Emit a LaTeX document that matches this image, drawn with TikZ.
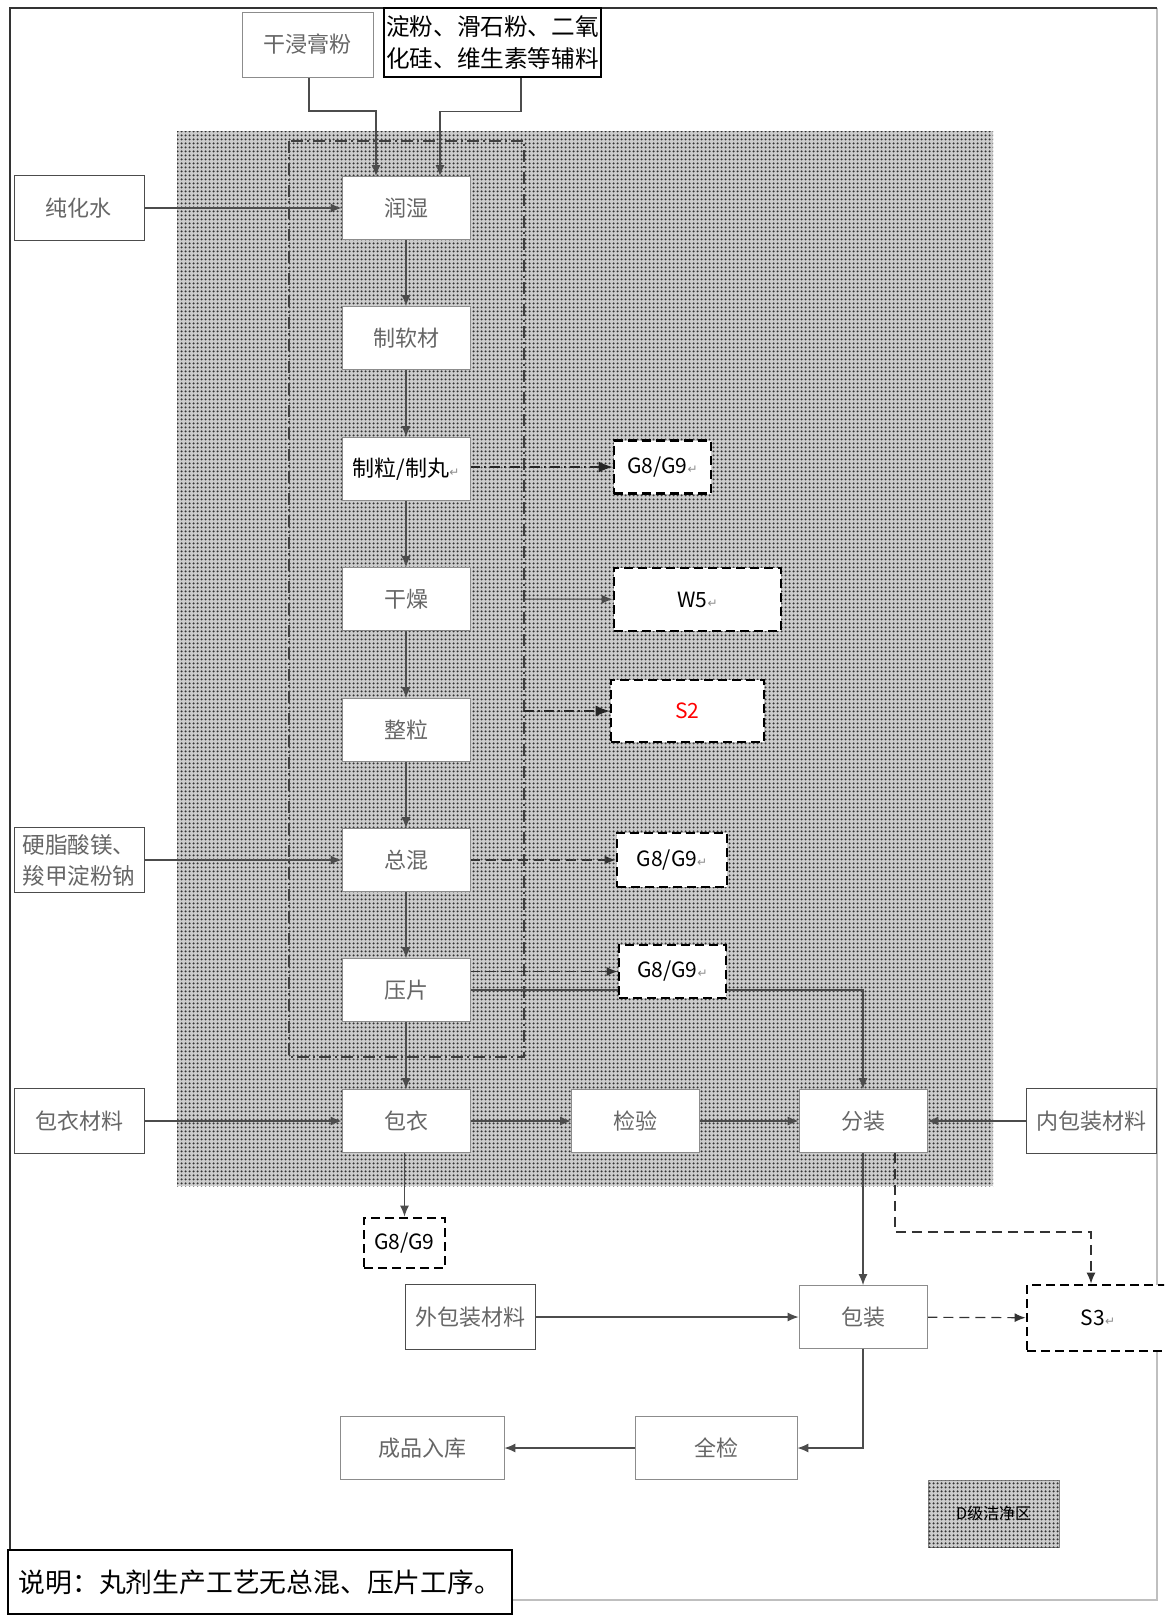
\documentclass[tikz,border=0pt]{standalone}
\usepackage{fontspec}
\setmainfont{Noto Sans CJK SC}
\newfontfamily\markfont{DejaVu Sans}
\usetikzlibrary{arrows.meta,patterns,backgrounds}

\newcommand{\retmark}{{\markfont\fontsize{6}{6}\selectfont\color{black!45}↵}}

% fine dot screen of the clean zone
\pgfdeclarepatternformonly{finedots}{\pgfpointorigin}{\pgfpoint{2pt}{2pt}}{\pgfpoint{2pt}{2pt}}
  {\pgfpathcircle{\pgfpoint{1pt}{1pt}}{0.7pt}\pgfusepath{fill}}

\tikzset{
  proc/.style={draw=black!45, fill=white, minimum width=64pt, minimum height=31.5pt,
    text=black!60, font=\fontsize{11}{13}\selectfont, inner sep=1pt},
  matbox/.style={proc, draw=black!70, minimum width=65pt, minimum height=32.5pt},
  emit/.style={draw=black, line width=1.4pt, dash pattern=on 4.5pt off 2.5pt, fill=white,
    font=\fontsize{10.5}{12}\selectfont, inner sep=1pt},
  flow/.style={draw=black!70, line width=0.6pt, -{Latex[length=5.5pt,width=4.5pt]}},
  dflow/.style={flow, draw=black!80, dash pattern=on 5pt off 3pt},
  ddflow/.style={flow, draw=black!85, dash pattern=on 5pt off 2pt on 1pt off 2pt,
    -{Latex[length=7pt,width=5.5pt]}},
  cleanzone/.style={fill=gray!40, postaction={pattern=finedots, pattern color=black!80}},
}

\begin{document}
\begin{tikzpicture}[x=0.5pt, y=-0.5pt]
    \useasboundingbox (0,0) rectangle (1164,1617);
    \clip (0,0) rectangle (1164,1617);
    \def\colx{406}

    % frame, clean zone and the dash-dot group
    \begin{scope}[on background layer]
      \fill[white] (0,0) rectangle (1164,1617);
      \draw[black!25, line width=0.8pt] (1157,8) -- (1157,1600) -- (10,1600);
      \draw[black!80, line width=1pt] (10,1600) -- (10,8) -- (1157,8);
      \path[cleanzone] (177,131) rectangle (993,1186);
      \draw[black!75, line width=0.6pt, dash pattern=on 6pt off 2pt on 1pt off 2pt] (289,141) rectangle (524,1057);
    \end{scope}

    % raw materials
    \node[proc, minimum width=65.5pt, minimum height=32.5pt] (gan) at (307.5,44.5) {干浸膏粉};
    \node[draw=black, line width=1pt, fill=white, minimum width=108.5pt, minimum height=34.5pt,
      align=left, font=\fontsize{11.8}{16}\selectfont, inner sep=1pt] (fuliao) at (492.5,42.5)
      {淀粉、滑石粉、二氧\\化硅、维生素等辅料};
    \node[matbox] (water) at (79,208) {纯化水};
    \node[matbox, align=left, font=\fontsize{11.3}{15.5}\selectfont] (yingzhi) at (79,860) {硬脂酸镁、\\羧甲淀粉钠};
    \node[matbox] (yibaocai) at (79,1121) {包衣材料};
    \node[matbox] (neibao) at (1091.5,1121) {内包装材料};
    \node[matbox] (waibao) at (470.5,1317) {外包装材料};

    % main column
    \node[proc] (runshi) at (\colx,208) {润湿};
    \node[proc] (ruancai) at (\colx,338) {制软材};
    \node[proc, text=black] (zhili) at (\colx,469) {制粒/制丸\retmark};
    \node[proc] (ganzao) at (\colx,599) {干燥};
    \node[proc] (zhengli) at (\colx,730) {整粒};
    \node[proc] (zonghun) at (\colx,860) {总混};
    \node[proc] (yapian) at (\colx,990) {压片};
    \node[proc] (baoyi) at (\colx,1121) {包衣};
    \node[proc] (jianyan) at (635.5,1121) {检验};
    \node[proc] (fenzhuang) at (863,1121) {分装};
    \node[proc] (baozhuang) at (863,1317) {包装};
    \node[proc, minimum width=81pt] (quanjian) at (716,1448) {全检};
    \node[proc, minimum width=82pt] (chengpin) at (422,1448) {成品入库};

    % emissions
    \node[emit, minimum width=48.5pt, minimum height=26.5pt] (g1) at (662.5,467) {G8/G9\retmark};
    \node[emit, minimum width=83.5pt, minimum height=31.5pt] (w5) at (697.5,599.5) {W5\retmark};
    \node[emit, minimum width=76.5pt, minimum height=31pt, text=red] (s2) at (687.5,711) {S2};
    \node[emit, minimum width=55pt, minimum height=27pt] (g2) at (672,860) {G8/G9\retmark};
    \node[emit, minimum width=53.5pt, minimum height=26.5pt] (g3) at (672.5,971.5) {G8/G9\retmark};
    \node[emit, minimum width=40.5pt, minimum height=25pt] (g4) at (404.5,1243) {G8/G9};
    \node[emit, minimum width=71pt, minimum height=33pt] (s3) at (1098,1318) {S3\retmark};

    % legend and note
    \node[draw=black!50, cleanzone, minimum width=65.5pt, minimum height=33.5pt,
      font=\fontsize{8}{9}\selectfont] (legend) at (993.5,1513.5) {D级洁净区};
    \node[draw=black, line width=0.8pt, fill=white, minimum width=252pt, minimum height=32pt,
      font=\fontsize{13.4}{15}\selectfont] (note) at (260,1582) {说明：丸剂生产工艺无总混、压片工序。};

    % connectors
    \begin{scope}[on background layer]
      \draw[flow] ([xshift=0.75pt]gan.south) -- ++(0,33.5) -| ([xshift=-15pt]runshi.north);
      \draw[flow] ([xshift=14.25pt]fuliao.south) -- ++(0,33.5) -| ([xshift=17pt]runshi.north);
      \draw[flow] (water) -- (runshi);
      \foreach \a/\b in {runshi/ruancai, ruancai/zhili, zhili/ganzao, ganzao/zhengli,
                         zhengli/zonghun, zonghun/yapian, yapian/baoyi}
        \draw[flow] (\a) -- (\b);
      \draw[ddflow] (zhili.east |- g1) -- (g1);
      \coordinate (wsrc) at (524,599);
      \draw[flow, line width=0.5pt] (wsrc) -- (w5);
      \coordinate (ssrc) at (524,711);
      \draw[ddflow] (ssrc) -- (s2);
      \draw[dflow] (zonghun) -- (g2);
      \draw[dflow] (yapian.east |- g3) -- (g3);
      \draw[flow] (yapian) -| (fenzhuang);
      \draw[flow] (yingzhi) -- (zonghun);
      \draw[flow] (yibaocai) -- (baoyi);
      \draw[flow] (baoyi) -- (jianyan);
      \draw[flow] (jianyan) -- (fenzhuang);
      \draw[flow] (neibao) -- (fenzhuang);
      \draw[flow] (baoyi.south -| g4) -- (g4);
      \draw[flow] (fenzhuang) -- (baozhuang);
      \coordinate (s3turn) at (1091,1232);
      \draw[dflow] ([xshift=16pt]fenzhuang.south) |- (s3turn) -- (s3.north -| s3turn);
      \draw[flow] (waibao) -- (baozhuang);
      \draw[dflow] (baozhuang) -- (s3);
      \draw[flow] (baozhuang) |- (quanjian);
      \draw[flow] (quanjian) -- (chengpin);
    \end{scope}
\end{tikzpicture}
\end{document}
